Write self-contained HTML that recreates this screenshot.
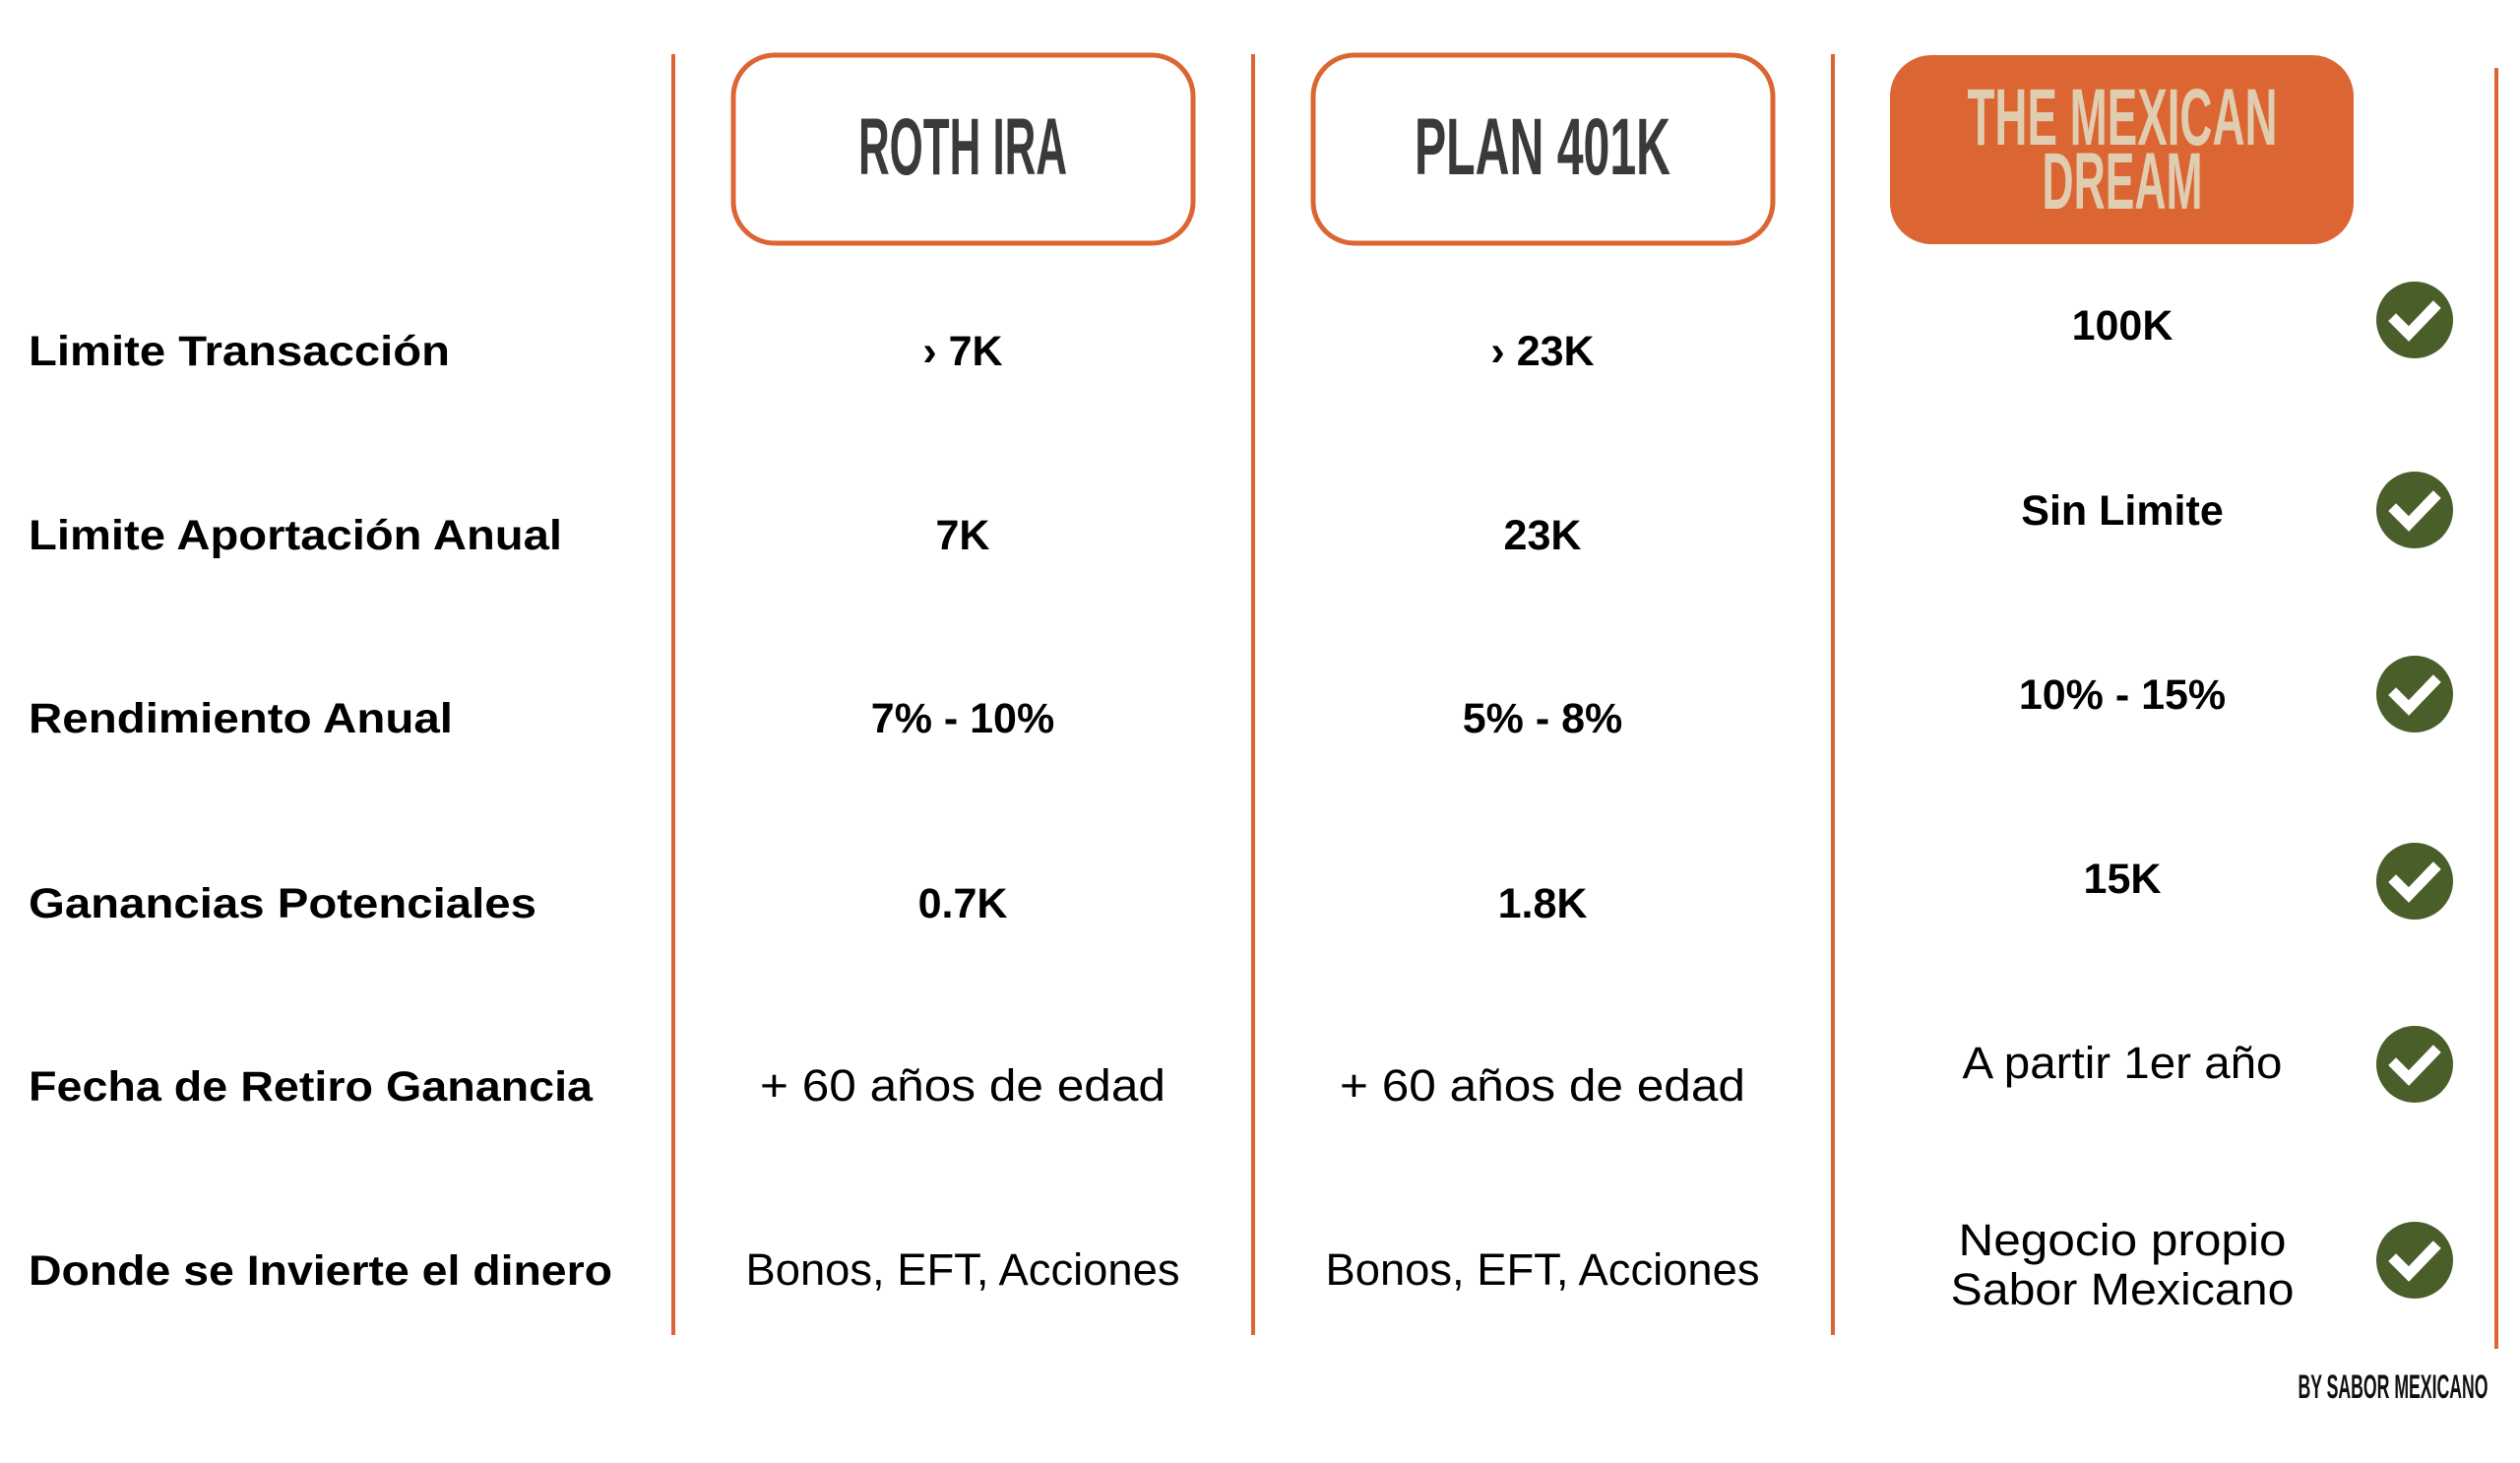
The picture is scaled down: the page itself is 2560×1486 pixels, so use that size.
<!DOCTYPE html>
<html><head><meta charset="utf-8"><style>html,body{margin:0;padding:0;background:#fff;}svg{display:block}</style></head>
<body>
<svg width="2560" height="1486" viewBox="0 0 2560 1486" xmlns="http://www.w3.org/2000/svg">
<rect width="2560" height="1486" fill="#fff"/>
<g stroke="#dc6633" stroke-width="4">
<line x1="684" y1="55" x2="684" y2="1356"/>
<line x1="1273" y1="55" x2="1273" y2="1356"/>
<line x1="1862" y1="55" x2="1862" y2="1356"/>
<line x1="2536" y1="69" x2="2536" y2="1370"/>
</g>
<rect x="745" y="56" width="467" height="191" rx="42" fill="#fff" stroke="#dc6633" stroke-width="5"/>
<rect x="1334" y="56" width="467" height="191" rx="42" fill="#fff" stroke="#dc6633" stroke-width="5"/>
<rect x="1920" y="56" width="471" height="192" rx="42" fill="#dc6633"/>
<g font-family="'Liberation Sans Narrow','Liberation Sans',sans-serif" font-weight="bold" text-anchor="middle">
<text x="978" y="177" font-size="82" fill="#3a3a3a" textLength="212" lengthAdjust="spacingAndGlyphs">ROTH IRA</text>
<text x="1567" y="177" font-size="82" fill="#3a3a3a" textLength="260" lengthAdjust="spacingAndGlyphs">PLAN 401K</text>
<text x="2156" y="147" font-size="82" fill="#e0cdb0" textLength="315" lengthAdjust="spacingAndGlyphs">THE MEXICAN</text>
<text x="2156" y="212" font-size="82" fill="#e0cdb0" textLength="163" lengthAdjust="spacingAndGlyphs">DREAM</text>
<text x="2431" y="1420" font-size="34" fill="#111" textLength="193" lengthAdjust="spacingAndGlyphs">BY SABOR MEXICANO</text>
</g>
<g font-family="'Liberation Sans',sans-serif" font-weight="bold" font-size="43" fill="#000">
<text x="29" y="371" textLength="428" lengthAdjust="spacingAndGlyphs">Limite Transacción</text>
<text x="29" y="558" textLength="542" lengthAdjust="spacingAndGlyphs">Limite Aportación Anual</text>
<text x="29" y="744" textLength="431" lengthAdjust="spacingAndGlyphs">Rendimiento Anual</text>
<text x="29" y="932" textLength="516" lengthAdjust="spacingAndGlyphs">Ganancias Potenciales</text>
<text x="29" y="1118" textLength="573" lengthAdjust="spacingAndGlyphs">Fecha de Retiro Ganancia</text>
<text x="29" y="1305" textLength="593" lengthAdjust="spacingAndGlyphs">Donde se Invierte el dinero</text>
</g>
<g font-family="'Liberation Sans',sans-serif" font-weight="bold" font-size="43" fill="#000" text-anchor="middle">
<text x="978" y="371">› 7K</text>
<text x="978" y="558">7K</text>
<text x="978" y="744">7% - 10%</text>
<text x="978" y="932">0.7K</text>
<text x="1567" y="371">› 23K</text>
<text x="1567" y="558">23K</text>
<text x="1567" y="744">5% - 8%</text>
<text x="1567" y="932">1.8K</text>
<text x="2156" y="345">100K</text>
<text x="2156" y="533">Sin Limite</text>
<text x="2156" y="720">10% - 15%</text>
<text x="2156" y="907">15K</text>
</g>
<g font-family="'Liberation Sans',sans-serif" font-size="45" fill="#000" text-anchor="middle">
<text x="978" y="1118" textLength="412" lengthAdjust="spacingAndGlyphs">+ 60 años de edad</text>
<text x="978" y="1305" textLength="441" lengthAdjust="spacingAndGlyphs">Bonos, EFT, Acciones</text>
<text x="1567" y="1118" textLength="412" lengthAdjust="spacingAndGlyphs">+ 60 años de edad</text>
<text x="1567" y="1305" textLength="441" lengthAdjust="spacingAndGlyphs">Bonos, EFT, Acciones</text>
<text x="2156" y="1095" textLength="325" lengthAdjust="spacingAndGlyphs">A partir 1er año</text>
<text x="2156" y="1275" textLength="333" lengthAdjust="spacingAndGlyphs">Negocio propio</text>
<text x="2156" y="1325" textLength="349" lengthAdjust="spacingAndGlyphs">Sabor Mexicano</text>
</g>
<g>
<g transform="translate(2453,325)"><circle r="39" fill="#4a5e2a"/><path d="M-19,1 L-6,14 L19,-12" fill="none" stroke="#fff" stroke-width="11" stroke-linecap="square"/></g>
<g transform="translate(2453,518)"><circle r="39" fill="#4a5e2a"/><path d="M-19,1 L-6,14 L19,-12" fill="none" stroke="#fff" stroke-width="11" stroke-linecap="square"/></g>
<g transform="translate(2453,705)"><circle r="39" fill="#4a5e2a"/><path d="M-19,1 L-6,14 L19,-12" fill="none" stroke="#fff" stroke-width="11" stroke-linecap="square"/></g>
<g transform="translate(2453,895)"><circle r="39" fill="#4a5e2a"/><path d="M-19,1 L-6,14 L19,-12" fill="none" stroke="#fff" stroke-width="11" stroke-linecap="square"/></g>
<g transform="translate(2453,1081)"><circle r="39" fill="#4a5e2a"/><path d="M-19,1 L-6,14 L19,-12" fill="none" stroke="#fff" stroke-width="11" stroke-linecap="square"/></g>
<g transform="translate(2453,1280)"><circle r="39" fill="#4a5e2a"/><path d="M-19,1 L-6,14 L19,-12" fill="none" stroke="#fff" stroke-width="11" stroke-linecap="square"/></g>
</g>
</svg>
</body></html>
